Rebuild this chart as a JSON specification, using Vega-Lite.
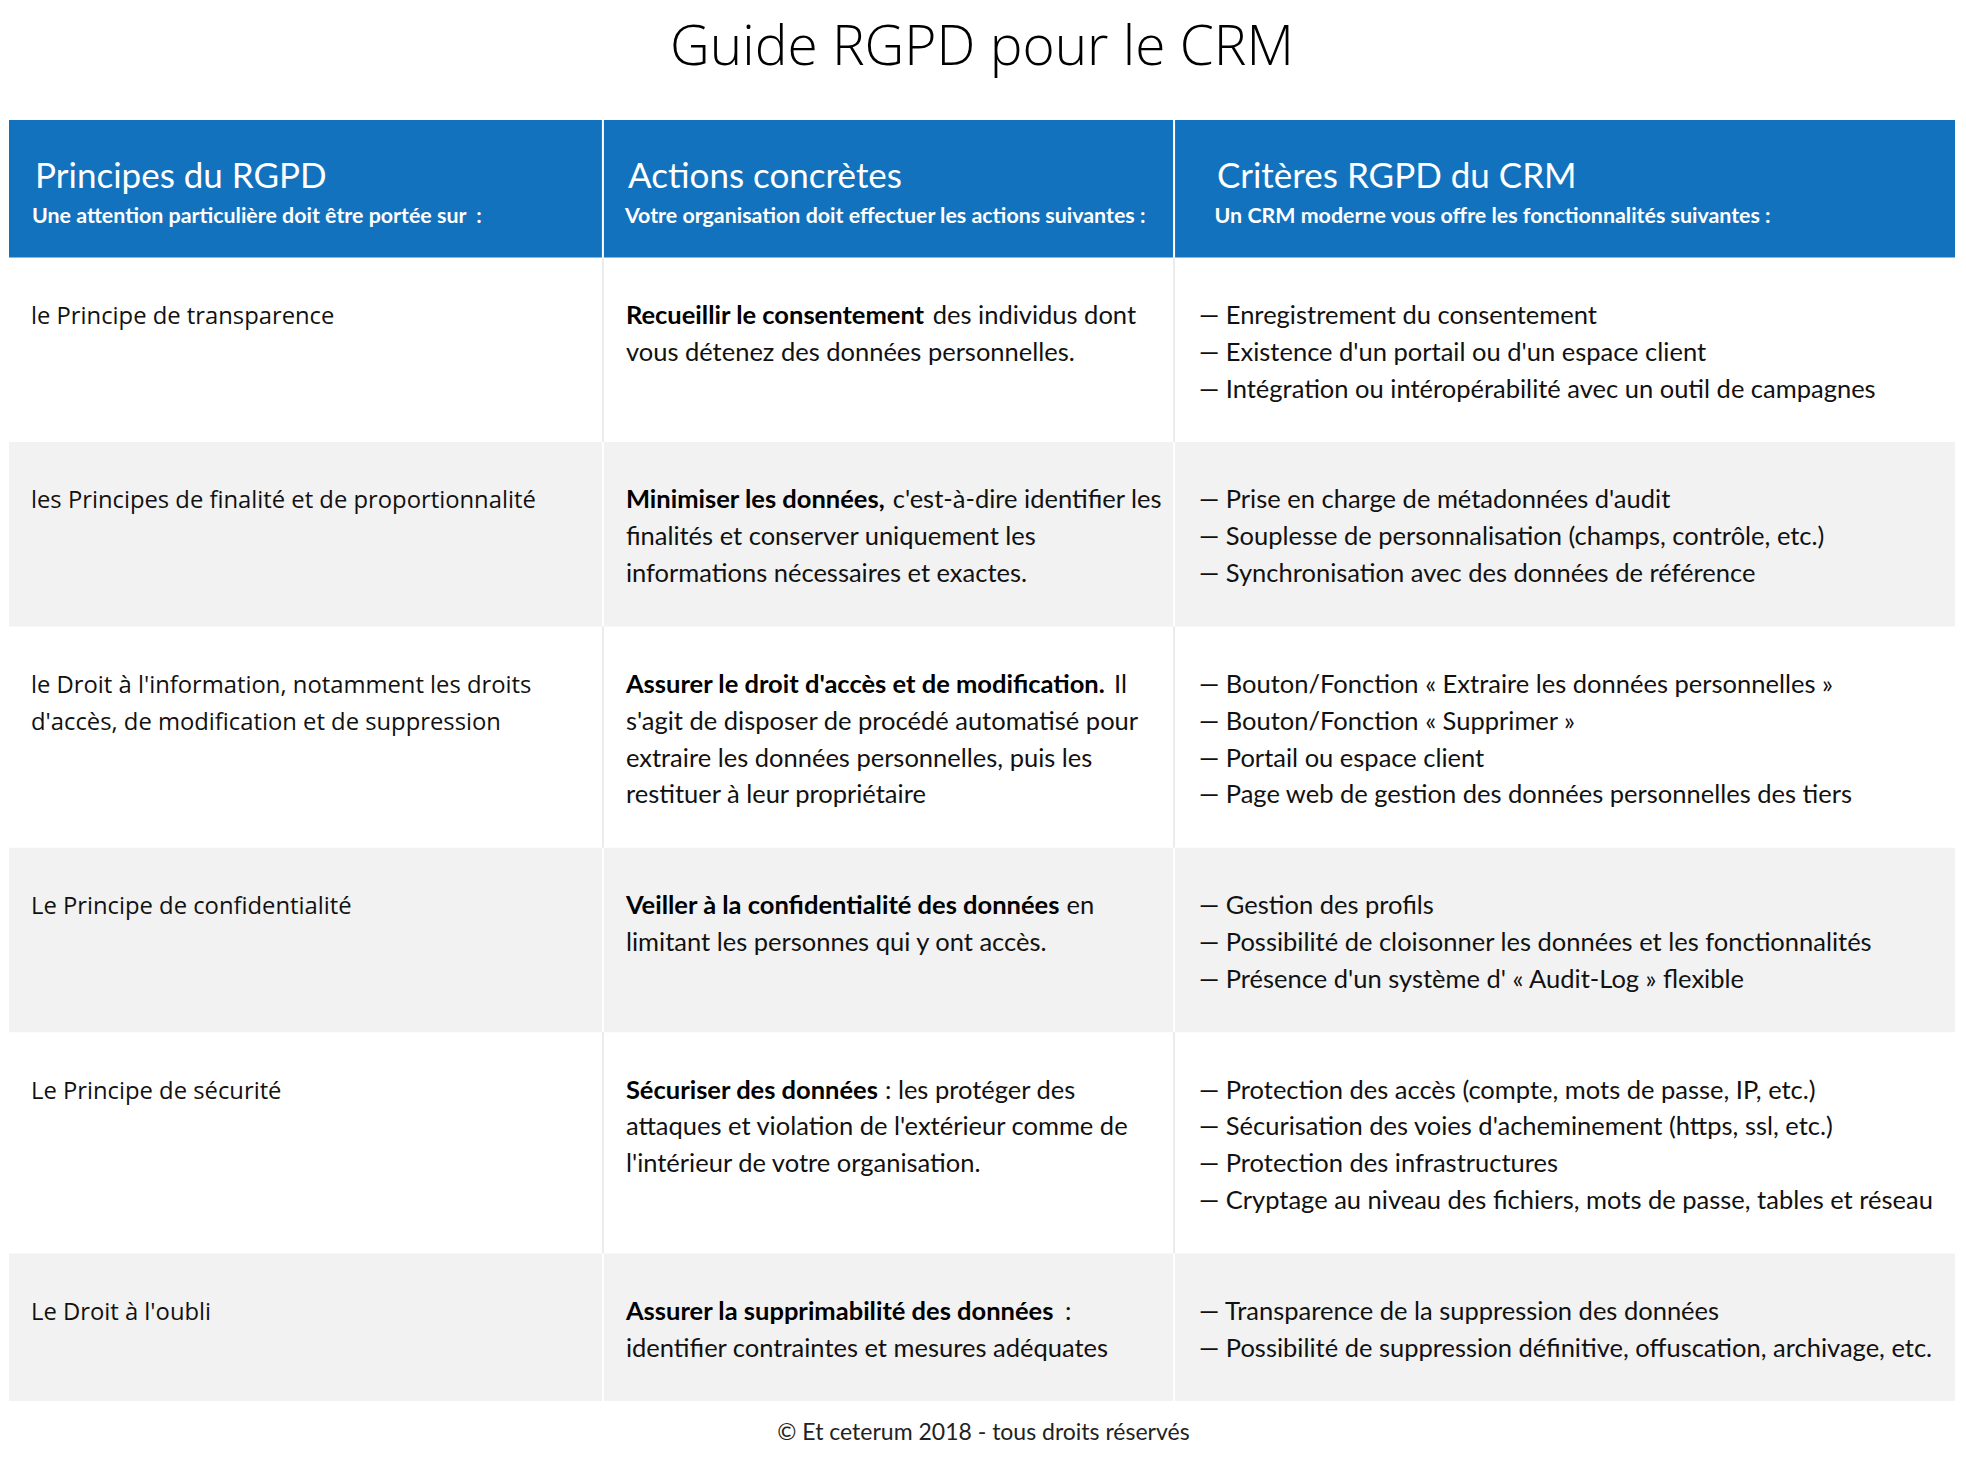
{
  "$schema": "https://vega.github.io/schema/vega-lite/v6.json",
  "width": 1948,
  "height": 1281,
  "autosize": {"type": "none"},
  "padding": {"left": 8, "right": 10, "top": 120, "bottom": 65},
  "background": "white",
  "config": {"view": {"stroke": null}, "text": {"font": "Lato"}},
  "title": {
    "text": "Guide RGPD pour le CRM",
    "font": "Open Sans",
    "fontSize": 55,
    "fontWeight": 300,
    "color": "#000000",
    "anchor": "middle",
    "baseline": "alphabetic",
    "offset": 0
  },
  "datasets": {
    "columns": [
      {"col": 1, "x": 0, "x2": 30.54, "y": -3.73, "y2": 0},
      {"col": 2, "x": 30.54, "x2": 59.86, "y": -3.73, "y2": 0},
      {"col": 3, "x": 59.86, "x2": 100, "y": -3.73, "y2": 0}
    ],
    "headings": [
      {"col": 1, "kind": "title", "x": 1.39, "y": -1.88, "text": "Principes du RGPD"},
      {"col": 1, "kind": "subtitle", "x": 1.23, "y": -0.94, "text": "Une attention particulière doit être portée sur \u00a0:"},
      {"col": 2, "kind": "title", "x": 31.83, "y": -1.88, "text": "Actions concrètes"},
      {"col": 2, "kind": "subtitle", "x": 31.67, "y": -0.94, "text": "Votre organisation doit effectuer les actions suivantes :"},
      {"col": 3, "kind": "title", "x": 62.06, "y": -1.88, "text": "Critères RGPD du CRM"},
      {"col": 3, "kind": "subtitle", "x": 61.94, "y": -0.94, "text": "Un CRM moderne vous offre les fonctionnalités suivantes :"}
    ],
    "cells": [
      {"row": 1, "col": 1, "x": 0, "x2": 30.54, "y": 0, "y2": 5, "shade": "white"},
      {"row": 1, "col": 2, "x": 30.54, "x2": 59.86, "y": 0, "y2": 5, "shade": "white"},
      {"row": 1, "col": 3, "x": 59.86, "x2": 100, "y": 0, "y2": 5, "shade": "white"},
      {"row": 2, "col": 1, "x": 0, "x2": 30.54, "y": 5, "y2": 10, "shade": "grey"},
      {"row": 2, "col": 2, "x": 30.54, "x2": 59.86, "y": 5, "y2": 10, "shade": "grey"},
      {"row": 2, "col": 3, "x": 59.86, "x2": 100, "y": 5, "y2": 10, "shade": "grey"},
      {"row": 3, "col": 1, "x": 0, "x2": 30.54, "y": 10, "y2": 16, "shade": "white"},
      {"row": 3, "col": 2, "x": 30.54, "x2": 59.86, "y": 10, "y2": 16, "shade": "white"},
      {"row": 3, "col": 3, "x": 59.86, "x2": 100, "y": 10, "y2": 16, "shade": "white"},
      {"row": 4, "col": 1, "x": 0, "x2": 30.54, "y": 16, "y2": 21, "shade": "grey"},
      {"row": 4, "col": 2, "x": 30.54, "x2": 59.86, "y": 16, "y2": 21, "shade": "grey"},
      {"row": 4, "col": 3, "x": 59.86, "x2": 100, "y": 16, "y2": 21, "shade": "grey"},
      {"row": 5, "col": 1, "x": 0, "x2": 30.54, "y": 21, "y2": 27, "shade": "white"},
      {"row": 5, "col": 2, "x": 30.54, "x2": 59.86, "y": 21, "y2": 27, "shade": "white"},
      {"row": 5, "col": 3, "x": 59.86, "x2": 100, "y": 21, "y2": 27, "shade": "white"},
      {"row": 6, "col": 1, "x": 0, "x2": 30.54, "y": 27, "y2": 31, "shade": "grey"},
      {"row": 6, "col": 2, "x": 30.54, "x2": 59.86, "y": 27, "y2": 31, "shade": "grey"},
      {"row": 6, "col": 3, "x": 59.86, "x2": 100, "y": 27, "y2": 31, "shade": "grey"}
    ],
    "lines": [
      {"row": 1, "col": 1, "x": 1.18, "y": 1.8, "w": "r", "text": "le Principe de transparence"},
      {"row": 2, "col": 1, "x": 1.18, "y": 6.8, "w": "r", "text": "les Principes de finalité et de proportionnalité"},
      {"row": 3, "col": 1, "x": 1.18, "y": 11.8, "w": "r", "text": "le Droit à l'information, notamment les droits"},
      {"row": 3, "col": 1, "x": 1.18, "y": 12.8, "w": "r", "text": "d'accès, de modification et de suppression"},
      {"row": 4, "col": 1, "x": 1.18, "y": 17.8, "w": "r", "text": "Le Principe de confidentialité"},
      {"row": 5, "col": 1, "x": 1.18, "y": 22.8, "w": "r", "text": "Le Principe de sécurité"},
      {"row": 6, "col": 1, "x": 1.18, "y": 28.8, "w": "r", "text": "Le Droit à l'oubli"},

      {"row": 1, "col": 2, "x": 31.72, "y": 1.8, "w": "b", "text": "Recueillir le consentement"},
      {"row": 1, "col": 2, "x": 47.47, "y": 1.8, "w": "r", "text": "des individus dont"},
      {"row": 1, "col": 2, "x": 31.72, "y": 2.8, "w": "r", "text": "vous détenez des données personnelles."},
      {"row": 2, "col": 2, "x": 31.72, "y": 6.8, "w": "b", "text": "Minimiser les données,"},
      {"row": 2, "col": 2, "x": 45.42, "y": 6.8, "w": "r", "text": "c'est-à-dire identifier les"},
      {"row": 2, "col": 2, "x": 31.72, "y": 7.8, "w": "r", "text": "finalités et conserver uniquement les"},
      {"row": 2, "col": 2, "x": 31.72, "y": 8.8, "w": "r", "text": "informations nécessaires et exactes."},
      {"row": 3, "col": 2, "x": 31.72, "y": 11.8, "w": "b", "text": "Assurer le droit d'accès et de modification."},
      {"row": 3, "col": 2, "x": 56.78, "y": 11.8, "w": "r", "text": "Il"},
      {"row": 3, "col": 2, "x": 31.72, "y": 12.8, "w": "r", "text": "s'agit de disposer de procédé automatisé pour"},
      {"row": 3, "col": 2, "x": 31.72, "y": 13.8, "w": "r", "text": "extraire les données personnelles, puis les"},
      {"row": 3, "col": 2, "x": 31.72, "y": 14.8, "w": "r", "text": "restituer à leur propriétaire"},
      {"row": 4, "col": 2, "x": 31.72, "y": 17.8, "w": "b", "text": "Veiller à la confidentialité des données"},
      {"row": 4, "col": 2, "x": 54.34, "y": 17.8, "w": "r", "text": "en"},
      {"row": 4, "col": 2, "x": 31.72, "y": 18.8, "w": "r", "text": "limitant les personnes qui y ont accès."},
      {"row": 5, "col": 2, "x": 31.72, "y": 22.8, "w": "b", "text": "Sécuriser des données"},
      {"row": 5, "col": 2, "x": 45.02, "y": 22.8, "w": "r", "text": ": les protéger des"},
      {"row": 5, "col": 2, "x": 31.72, "y": 23.8, "w": "r", "text": "attaques et violation de l'extérieur comme de"},
      {"row": 5, "col": 2, "x": 31.72, "y": 24.8, "w": "r", "text": "l'intérieur de votre organisation."},
      {"row": 6, "col": 2, "x": 31.72, "y": 28.8, "w": "b", "text": "Assurer la supprimabilité des données"},
      {"row": 6, "col": 2, "x": 54.26, "y": 28.8, "w": "r", "text": ":"},
      {"row": 6, "col": 2, "x": 31.72, "y": 29.8, "w": "r", "text": "identifier contraintes et mesures adéquates"},

      {"row": 1, "col": 3, "x": 61.14, "y": 1.8, "w": "r", "text": "— Enregistrement du consentement"},
      {"row": 1, "col": 3, "x": 61.14, "y": 2.8, "w": "r", "text": "— Existence d'un portail ou d'un espace client"},
      {"row": 1, "col": 3, "x": 61.14, "y": 3.8, "w": "r", "text": "— Intégration ou intéropérabilité avec un outil de campagnes"},
      {"row": 2, "col": 3, "x": 61.14, "y": 6.8, "w": "r", "text": "— Prise en charge de métadonnées d'audit"},
      {"row": 2, "col": 3, "x": 61.14, "y": 7.8, "w": "r", "text": "— Souplesse de personnalisation (champs, contrôle, etc.)"},
      {"row": 2, "col": 3, "x": 61.14, "y": 8.8, "w": "r", "text": "— Synchronisation avec des données de référence"},
      {"row": 3, "col": 3, "x": 61.14, "y": 11.8, "w": "r", "text": "— Bouton/Fonction « Extraire les données personnelles »"},
      {"row": 3, "col": 3, "x": 61.14, "y": 12.8, "w": "r", "text": "— Bouton/Fonction « Supprimer »"},
      {"row": 3, "col": 3, "x": 61.14, "y": 13.8, "w": "r", "text": "— Portail ou espace client"},
      {"row": 3, "col": 3, "x": 61.14, "y": 14.8, "w": "r", "text": "— Page web de gestion des données personnelles des tiers"},
      {"row": 4, "col": 3, "x": 61.14, "y": 17.8, "w": "r", "text": "— Gestion des profils"},
      {"row": 4, "col": 3, "x": 61.14, "y": 18.8, "w": "r", "text": "— Possibilité de cloisonner les données et les fonctionnalités"},
      {"row": 4, "col": 3, "x": 61.14, "y": 19.8, "w": "r", "text": "— Présence d'un système d' « Audit-Log » flexible"},
      {"row": 5, "col": 3, "x": 61.14, "y": 22.8, "w": "r", "text": "— Protection des accès (compte, mots de passe, IP, etc.)"},
      {"row": 5, "col": 3, "x": 61.14, "y": 23.8, "w": "r", "text": "— Sécurisation des voies d'acheminement (https, ssl, etc.)"},
      {"row": 5, "col": 3, "x": 61.14, "y": 24.8, "w": "r", "text": "— Protection des infrastructures"},
      {"row": 5, "col": 3, "x": 61.14, "y": 25.8, "w": "r", "text": "— Cryptage au niveau des fichiers, mots de passe, tables et réseau"},
      {"row": 6, "col": 3, "x": 61.14, "y": 28.8, "w": "r", "text": "— Transparence de la suppression des données"},
      {"row": 6, "col": 3, "x": 61.14, "y": 29.8, "w": "r", "text": "— Possibilité de suppression définitive, offuscation, archivage, etc."}
    ]
  },
  "encoding": {
    "x": {
      "field": "x", "type": "quantitative",
      "scale": {"domain": [0, 100], "nice": false, "zero": false},
      "axis": {
        "title": "© Et ceterum 2018 - tous droits réservés",
        "domain": false, "ticks": false, "labels": false, "grid": false,
        "titleFont": "Lato", "titleFontSize": 23, "titleFontWeight": "normal",
        "titleColor": "#222222", "titleX": 975, "titleY": 31,
        "titleBaseline": "middle", "titleAlign": "center"
      }
    },
    "y": {
      "field": "y", "type": "quantitative",
      "scale": {"domain": [-3.73, 31], "reverse": true, "nice": false, "zero": false},
      "axis": null
    }
  },
  "layer": [
    {
      "data": {"name": "cells"},
      "transform": [{"filter": "datum.shade == 'grey'"}],
      "mark": {"type": "rect", "color": "#f2f2f2", "xOffset": 1, "x2Offset": -1},
      "encoding": {
        "x2": {"field": "x2"},
        "y2": {"field": "y2"}
      }
    },
    {
      "data": {"name": "cells"},
      "transform": [{"filter": "datum.shade == 'white' && datum.col > 1"}],
      "mark": {"type": "rule", "strokeWidth": 2, "color": "#ebebeb"},
      "encoding": {
        "y2": {"field": "y2"}
      }
    },
    {
      "data": {"name": "columns"},
      "mark": {"type": "rect", "color": "#1272be", "xOffset": 1, "x2Offset": -1},
      "encoding": {
        "x2": {"field": "x2"},
        "y2": {"field": "y2"}
      }
    },
    {
      "data": {"name": "headings"},
      "transform": [{"filter": "datum.kind == 'title'"}],
      "mark": {"type": "text", "align": "left", "baseline": "alphabetic", "font": "Lato", "fontSize": 35, "color": "#ffffff"},
      "encoding": {"text": {"field": "text"}}
    },
    {
      "data": {"name": "headings"},
      "transform": [{"filter": "datum.kind == 'subtitle'"}],
      "mark": {"type": "text", "align": "left", "baseline": "alphabetic", "font": "Lato", "fontSize": 21.4, "fontWeight": "bold", "color": "#ffffff"},
      "encoding": {"text": {"field": "text"}}
    },
    {
      "data": {"name": "lines"},
      "transform": [{"filter": "datum.col == 1"}],
      "mark": {"type": "text", "align": "left", "baseline": "alphabetic", "font": "Open Sans", "fontSize": 23.8, "color": "#111111"},
      "encoding": {"text": {"field": "text"}}
    },
    {
      "data": {"name": "lines"},
      "transform": [{"filter": "datum.col != 1 && datum.w == 'r'"}],
      "mark": {"type": "text", "align": "left", "baseline": "alphabetic", "font": "Lato", "fontSize": 25.5, "color": "#111111"},
      "encoding": {"text": {"field": "text"}}
    },
    {
      "data": {"name": "lines"},
      "transform": [{"filter": "datum.w == 'b'"}],
      "mark": {"type": "text", "align": "left", "baseline": "alphabetic", "font": "Lato", "fontSize": 25.5, "fontWeight": "bold", "color": "#000000"},
      "encoding": {"text": {"field": "text"}}
    }
  ]
}
